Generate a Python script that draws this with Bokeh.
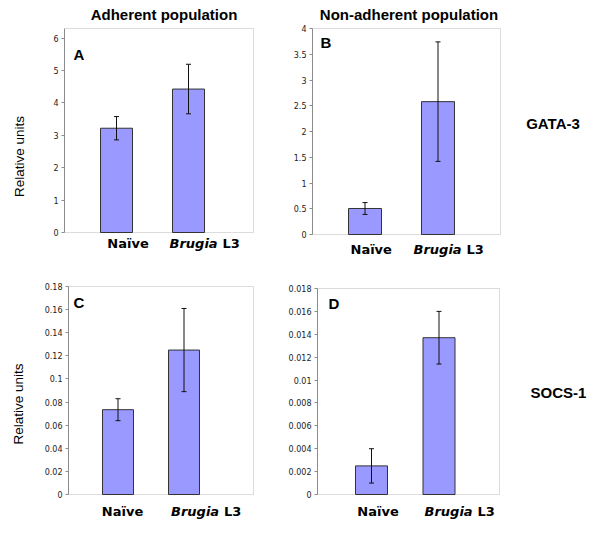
import math
from bokeh.plotting import figure
from bokeh.models import Range1d, FixedTicker, Label, Whisker, TeeHead, ColumnDataSource, BoxAnnotation
from bokeh.layouts import column, row
from bokeh.core.properties import value
from bokeh.embed import file_html
from bokeh.resources import INLINE

# ---------------- data ----------------
categories = ["Naïve", "Brugia L3"]

gata3_adherent = [3.22, 4.43]
gata3_adherent_err = [0.36, 0.765]
gata3_nonadherent = [0.505, 2.58]
gata3_nonadherent_err = [0.115, 1.16]
socs1_adherent = [0.0734, 0.125]
socs1_adherent_err = [0.0095, 0.036]
socs1_nonadherent = [0.0025, 0.0137]
socs1_nonadherent_err = [0.0015, 0.0023]

ticks_a = [0, 1, 2, 3, 4, 5, 6]
tick_labels_a = ["0", "1", "2", "3", "4", "5", "6"]
ticks_b = [0, 0.5, 1, 1.5, 2, 2.5, 3, 3.5, 4]
tick_labels_b = ["0", "0.5", "1", "1.5", "2", "2.5", "3", "3.5", "4"]
ticks_c = [0, 0.02, 0.04, 0.06, 0.08, 0.1, 0.12, 0.14, 0.16, 0.18]
tick_labels_c = ["0", "0.02", "0.04", "0.06", "0.08", "0.1", "0.12", "0.14", "0.16", "0.18"]
ticks_d = [0, 0.002, 0.004, 0.006, 0.008, 0.01, 0.012, 0.014, 0.016, 0.018]
tick_labels_d = ["0", "0.002", "0.004", "0.006", "0.008", "0.01", "0.012", "0.014", "0.016", "0.018"]

panel_letters = ["A", "B", "C", "D"]
column_titles = ["Adherent population", "Non-adherent population"]
row_titles = ["GATA-3", "SOCS-1"]
y_title = "Relative units"

SANS = "Liberation Sans"
VERD = "DejaVu Sans"
GRID_GRAY = "#8c8c8c"


class Panel:
    """One bar panel. The Bokeh frame covers the whole figure right of the y axis;
    the Excel-like plot area is outlined with a box from 0 to ymax."""

    def __init__(self, values, errs, ticks, tick_labels, ymax, origin, size, area, bar_px, bar_w_px):
        L, T, R, B = area
        ox, oy = origin
        W, H = size
        self.area = area
        self.ymax = ymax
        self.bar0 = bar_px[0]
        self.spacing = bar_px[1] - bar_px[0]
        p = figure(width=W, height=H,
                   x_range=Range1d(self.dx(L), self.dx(ox + W)),
                   y_range=Range1d(self.dy(oy + H), self.dy(oy)),
                   x_axis_location=None, title=None, toolbar_location=None,
                   output_backend="svg", min_border=0,
                   min_border_left=L - ox, min_border_right=0,
                   min_border_top=0, min_border_bottom=0)
        p.background_fill_color = "white"
        p.border_fill_color = "white"
        p.outline_line_color = None
        p.xgrid.visible = False
        p.ygrid.visible = False

        p.add_layout(BoxAnnotation(left=self.dx(L), right=self.dx(R), bottom=0, top=ymax,
                                   fill_alpha=0, line_color=GRID_GRAY, line_width=1,
                                   level="underlay"))

        xs = list(range(1, len(categories) + 1))
        src = ColumnDataSource(dict(
            x=xs, top=values,
            upper=[v + e for v, e in zip(values, errs)],
            lower=[v - e for v, e in zip(values, errs)],
        ))
        p.vbar(x="x", top="top", bottom=0, width=bar_w_px / self.spacing, source=src,
               fill_color="#9999ff", line_color="#333333", line_width=1)
        wh = Whisker(source=src, base="x", upper="upper", lower="lower",
                     line_color="#111111", line_width=1, level="overlay",
                     upper_head=TeeHead(size=5, line_color="#111111", line_width=1),
                     lower_head=TeeHead(size=5, line_color="#111111", line_width=1))
        p.add_layout(wh)

        ax = p.yaxis[0]
        ax.bounds = (0, ymax)
        ax.ticker = FixedTicker(ticks=ticks)
        ax.major_label_overrides = dict(zip(ticks, tick_labels))
        ax.minor_tick_line_color = None
        ax.major_tick_in = 0
        ax.major_tick_out = 3
        ax.major_tick_line_color = GRID_GRAY
        ax.axis_line_color = GRID_GRAY
        ax.major_label_text_font = VERD
        ax.major_label_text_font_size = "8px"
        ax.major_label_text_color = "#222222"
        ax.major_label_standoff = 3
        self.p = p

    def dx(self, px):
        return 1 + (px - self.bar0) / self.spacing

    def dy(self, py):
        L, T, R, B = self.area
        return (B - py) / (B - T) * self.ymax

    def label(self, text, px, py, font=SANS, size="15px", style="bold", align="center", angle=0.0):
        self.p.add_layout(Label(x=self.dx(px), y=self.dy(py), text=text,
                                text_font=font, text_font_size=size, text_font_style=style,
                                text_align=align, text_baseline="middle", angle=angle,
                                text_color="black"))

    def cat_labels(self, naive_cx, brugia_cx, cy):
        self.label(categories[0], naive_cx, cy, font=VERD, size="13px", style="bold")
        left = brugia_cx - 35.5
        word, rest = categories[1].split(" ")
        self.label(word, left, cy, font=VERD, size="13px", style="bold italic", align="left")
        self.label(rest, left + 53, cy, font=VERD, size="13px", style="bold", align="left")


LEFT_W = 38
TOP_H = 270
BOT_H = 265

pa = Panel(gata3_adherent, gata3_adherent_err, ticks_a, tick_labels_a, 6.3,
           (LEFT_W, 0), (280 - LEFT_W, TOP_H), (64, 28, 253, 232), (116, 188), 32)
pb = Panel(gata3_nonadherent, gata3_nonadherent_err, ticks_b, tick_labels_b, 4,
           (280, 0), (320, TOP_H), (312, 28, 500, 234), (364.5, 437.5), 33)
pc = Panel(socs1_adherent, socs1_adherent_err, ticks_c, tick_labels_c, 0.18,
           (LEFT_W, TOP_H), (280 - LEFT_W, BOT_H), (68, 286, 253, 494), (117.5, 183.5), 31)
pd = Panel(socs1_nonadherent, socs1_nonadherent_err, ticks_d, tick_labels_d, 0.018,
           (280, TOP_H), (320, BOT_H), (317, 288, 499, 494), (371, 438.5), 32)

# column titles
pa.label(column_titles[0], 163.5, 14, size="15px", style="bold")
pb.label(column_titles[1], 408.5, 13.5, size="15px", style="bold")
# row titles
pb.label(row_titles[0], 552.5, 122.5, size="15px", style="bold")
pd.label(row_titles[1], 558, 392, size="15px", style="bold")
# panel letters
pa.label(panel_letters[0], 73, 53.5, size="15px", style="bold", align="left")
pb.label(panel_letters[1], 320, 41.5, size="15px", style="bold", align="left")
pc.label(panel_letters[2], 73, 301.5, size="15px", style="bold", align="left")
pd.label(panel_letters[3], 328, 302.5, size="15px", style="bold", align="left")
# category labels
pa.cat_labels(127.5, 204.5, 242.5)
pb.cat_labels(370.7, 448.5, 249)
pc.cat_labels(122, 206, 511)
pd.cat_labels(377.5, 459.5, 511)

# left strip holding the rotated y titles
TOTAL_H = TOP_H + BOT_H
side = figure(width=LEFT_W, height=TOTAL_H, x_range=Range1d(0, LEFT_W), y_range=Range1d(0, TOTAL_H),
              x_axis_location=None, y_axis_location=None, title=None, toolbar_location=None,
              output_backend="svg", min_border=0)
side.outline_line_color = None
side.xgrid.visible = False
side.ygrid.visible = False
side.text(x=[19, 18], y=[TOTAL_H - 156, TOTAL_H - 403.5], text=[y_title, y_title],
          angle=math.pi / 2, text_font=value(SANS), text_font_size="13.5px",
          text_align="center", text_baseline="middle", text_color="black")

grid = column(row(pa.p, pb.p, spacing=0), row(pc.p, pd.p, spacing=0), spacing=0)
layout = row(side, grid, spacing=0)
open("out.html", "w").write(file_html(layout, INLINE))
